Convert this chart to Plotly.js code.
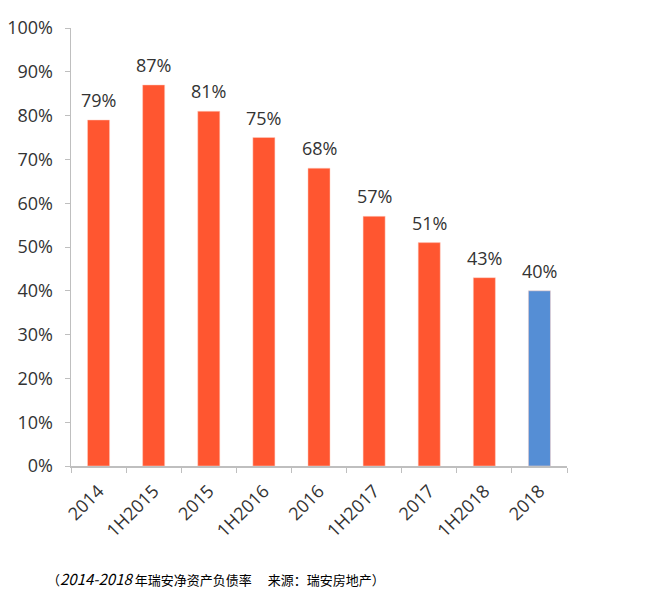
<!DOCTYPE html>
<html>
<head>
<meta charset="utf-8">
<script src="https://cdn.plot.ly/plotly-3.0.1.min.js"></script>
<style>
  html, body { margin: 0; padding: 0; background: #fff; }
  #chart { width: 645px; height: 594px; }
</style>
</head>
<body>
<div id="chart"></div>
<script>
// net gearing ratio by period
const periods = ['2014', '1H2015', '2015', '1H2016', '2016', '1H2017', '2017', '1H2018', '2018'];
const gearing = [0.79, 0.87, 0.81, 0.75, 0.68, 0.57, 0.51, 0.43, 0.40];
const barColors = ['#ff5630', '#ff5630', '#ff5630', '#ff5630', '#ff5630', '#ff5630', '#ff5630', '#ff5630', '#558ed5'];
const caption = '（<i><span style="font-size:15px">2014-2018</span></i> 年瑞安净资产负债率　 来源：瑞安房地产）';

const trace = {
    x: periods,
    y: gearing,
    type: 'bar',
    marker: { color: barColors, line: { color: '#ffd0c4', width: 0.5 } },
    hoverinfo: 'skip'
};

// value labels above each bar (x given as category index)
const valueLabels = periods.map((p, i) => ({
    x: i,
    y: gearing[i],
    xref: 'x',
    yref: 'y',
    text: Math.round(gearing[i] * 100) + '%',
    showarrow: false,
    yanchor: 'bottom',
    yshift: 6,
    font: { family: 'Open Sans, sans-serif', size: 18, color: '#333333' }
}));

const layout = {
    width: 645,
    height: 594,
    margin: { l: 71, r: 78, t: 28, b: 128 },
    paper_bgcolor: '#ffffff',
    plot_bgcolor: '#ffffff',
    bargap: 0.6,
    showlegend: false,
    font: { family: 'Open Sans, Liberation Sans, sans-serif', color: '#404040' },
    xaxis: {
        type: 'category',
        range: [-0.5, periods.length - 0.5],
        tickangle: -45,
        showline: true,
        linecolor: '#bfbfbf',
        linewidth: 1.5,
        ticks: 'outside',
        tickson: 'boundaries',
        ticklen: 5,
        tickcolor: '#bfbfbf',
        ticklabelstandoff: 6,
        tickfont: { size: 18, color: '#333333' },
        showgrid: false
    },
    yaxis: {
        range: [0, 1],
        dtick: 0.1,
        tickformat: '.0%',
        showline: true,
        linecolor: '#bfbfbf',
        linewidth: 1.5,
        ticks: 'outside',
        ticklen: 5,
        tickcolor: '#bfbfbf',
        ticklabelstandoff: 8,
        tickfont: { size: 18, color: '#333333' },
        showgrid: false,
        zeroline: false
    },
    annotations: valueLabels.concat([{
        text: caption,
        xref: 'paper',
        yref: 'paper',
        x: -0.052,
        y: -0.256,
        xanchor: 'left',
        yanchor: 'middle',
        showarrow: false,
        font: { family: 'Noto Sans CJK SC, sans-serif', size: 13, color: '#000000' }
    }])
};

Plotly.newPlot('chart', [trace], layout, { displayModeBar: false, staticPlot: true });
</script>
</body>
</html>
